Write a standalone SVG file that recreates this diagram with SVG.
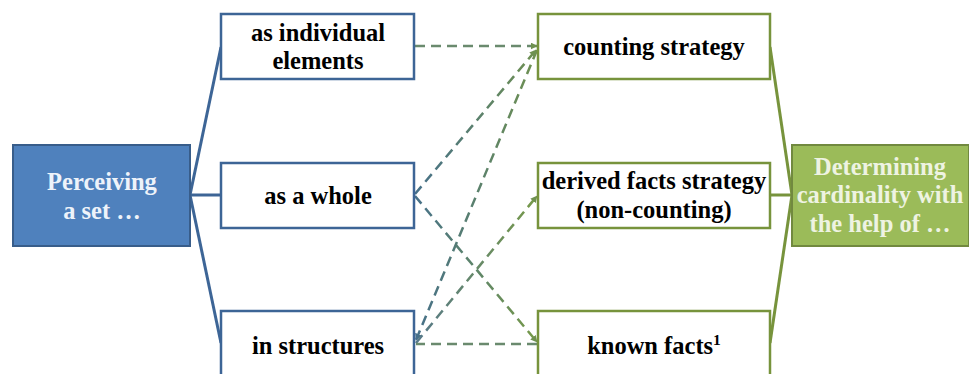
<svg xmlns="http://www.w3.org/2000/svg" width="969" height="374" viewBox="0 0 969 374">
<defs>
<style>
text{font-family:"Liberation Serif","Times New Roman",serif;font-weight:bold;font-size:24.5px;text-anchor:middle}
.t{fill:#000}
.bb{fill:#fff;stroke:#3d6596;stroke-width:2.5}
.gb{fill:#fff;stroke:#77933c;stroke-width:2.5}
.bl{stroke:#3d6596;stroke-width:3;fill:none}
.gl{stroke:#77933c;stroke-width:3;fill:none}
.d{stroke-width:2.5;stroke-dasharray:10 6;fill:none}
</style>
<linearGradient id="g1" gradientUnits="userSpaceOnUse" x1="414" y1="195" x2="538" y2="47"><stop offset="0" stop-color="#46708a"/><stop offset="1" stop-color="#6f9150"/></linearGradient>
<linearGradient id="g2" gradientUnits="userSpaceOnUse" x1="414" y1="343" x2="538" y2="47"><stop offset="0" stop-color="#46708a"/><stop offset="1" stop-color="#6f9150"/></linearGradient>
<linearGradient id="g3" gradientUnits="userSpaceOnUse" x1="414" y1="343" x2="538" y2="195"><stop offset="0" stop-color="#56788a"/><stop offset="1" stop-color="#779a48"/></linearGradient>
<linearGradient id="g4" gradientUnits="userSpaceOnUse" x1="414" y1="195" x2="538" y2="343"><stop offset="0" stop-color="#46708a"/><stop offset="1" stop-color="#779a48"/></linearGradient>
<marker id="ag" viewBox="0 0 10 10" refX="9" refY="5" markerWidth="7" markerHeight="7" markerUnits="userSpaceOnUse" orient="auto"><path d="M0,0 L10,5 L0,10 z" fill="#6f9150"/></marker>
<marker id="ab" viewBox="0 0 10 10" refX="9" refY="5" markerWidth="7" markerHeight="7" markerUnits="userSpaceOnUse" orient="auto"><path d="M0,0 L10,5 L0,10 z" fill="#46708a"/></marker>
</defs>
<g id="connectors">
<line class="bl" x1="190" y1="195" x2="221" y2="47"/>
<line class="bl" x1="190" y1="195" x2="221" y2="195"/>
<line class="bl" x1="190" y1="195" x2="221" y2="343"/>
<line class="gl" x1="792" y1="195" x2="770" y2="47"/>
<line class="gl" x1="792" y1="195" x2="770" y2="195"/>
<line class="gl" x1="792" y1="195" x2="770" y2="343"/>
<line class="d" stroke="#6a8a6e" x1="415" y1="46" x2="537" y2="46" marker-end="url(#ag)"/>
<line class="d" stroke="url(#g1)" x1="415" y1="194" x2="536" y2="50" marker-end="url(#ag)"/>
<line class="d" stroke="url(#g2)" x1="537" y1="50" x2="416" y2="340" marker-end="url(#ab)"/>
<line class="d" stroke="url(#g3)" x1="416" y1="343" x2="537" y2="196" marker-end="url(#ag)"/>
<line class="d" stroke="url(#g4)" x1="415" y1="196" x2="537" y2="342" marker-end="url(#ag)"/>
<line class="d" stroke="#6a8a6e" x1="537" y1="344" x2="416" y2="344"/>
</g>
<g id="perceiving">
<rect x="13" y="145" width="177" height="101" fill="#4f81bd" stroke="#385d8a" stroke-width="2"/>
<text fill="#eef3fa" x="102" y="190">Perceiving</text>
<text fill="#eef3fa" x="102" y="219">a set …</text>
</g>
<g id="individual">
<rect class="bb" x="221" y="14" width="193" height="65"/>
<text class="t" x="318" y="41">as individual</text>
<text class="t" x="318" y="69">elements</text>
</g>
<g id="whole">
<rect class="bb" x="221" y="163" width="193" height="65"/>
<text class="t" x="318" y="204">as a whole</text>
</g>
<g id="structures">
<rect class="bb" x="221" y="311" width="193" height="80"/>
<text class="t" x="318" y="354">in structures</text>
</g>
<g id="counting">
<rect class="gb" x="538" y="14" width="232" height="65"/>
<text class="t" x="654" y="55">counting strategy</text>
</g>
<g id="derived">
<rect class="gb" x="538" y="163" width="232" height="65"/>
<text class="t" x="654" y="189">derived facts strategy</text>
<text class="t" x="654" y="218">(non-counting)</text>
</g>
<g id="known">
<rect class="gb" x="538" y="311" width="232" height="80"/>
<text class="t" x="654" y="354">known facts<tspan font-size="15.5" dy="-9">1</tspan></text>
</g>
<g id="determining">
<rect x="792" y="145" width="177" height="101" fill="#9bbb59" stroke="#71893f" stroke-width="2"/>
<text fill="#eef3e2" x="880" y="175">Determining</text>
<text fill="#eef3e2" x="880" y="203">cardinality with</text>
<text fill="#eef3e2" x="880" y="232">the help of …</text>
</g>
</svg>
